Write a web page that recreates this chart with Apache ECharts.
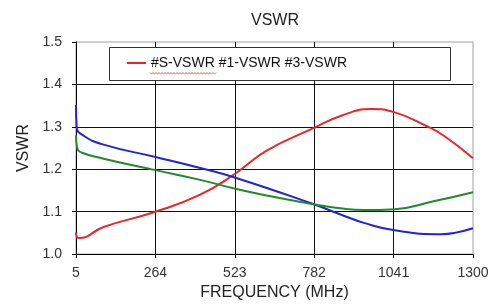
<!DOCTYPE html>
<html>
<head>
<meta charset="utf-8"/>
<title>VSWR</title>
<script src="https://cdn.jsdelivr.net/npm/echarts@6/dist/echarts.min.js"></script>
<style>
  html, body { margin: 0; padding: 0; background: #fff; }
  #main { width: 504px; height: 306px; }
</style>
</head>
<body>
<div id="main"></div>
<script>
// values (frequency in MHz, VSWR)
const seriesNames = ['#S-VSWR', '#1-VSWR', '#3-VSWR']
const xTicks = [5, 264, 523, 782, 1041, 1300]

const sFreq = [5, 8, 14, 95, 264, 410, 525, 627, 783, 866, 968, 1045, 1148, 1205, 1300]
const sVswr = [1.051, 1.040, 1.038, 1.064, 1.100, 1.140, 1.190, 1.244, 1.298, 1.325, 1.342, 1.334, 1.302, 1.279, 1.226]

const oneFreq = [5, 7, 30, 95, 264, 410, 525, 783, 866, 947, 1045, 1197, 1240, 1300]
const oneVswr = [1.352, 1.300, 1.279, 1.258, 1.229, 1.203, 1.180, 1.117, 1.094, 1.073, 1.056, 1.047, 1.050, 1.061]

const threeFreq = [5, 9, 25, 95, 264, 410, 525, 627, 783, 866, 947, 1045, 1175, 1300]
const threeVswr = [1.280, 1.250, 1.239, 1.225, 1.198, 1.175, 1.154, 1.138, 1.117, 1.108, 1.104, 1.106, 1.125, 1.146]

const colors = ['#e8262a', '#2222d6', '#23892a']
const font = "'Liberation Sans', Arial, sans-serif"

function pairs(xs, ys) {
    return xs.map((x, i) => [x, ys[i]])
}

const lines = [
    pairs(sFreq, sVswr),
    pairs(oneFreq, oneVswr),
    pairs(threeFreq, threeVswr)
]

// spell-check squiggle under the first legend word
const squiggle = []
for (let x = 150; x <= 216; x += 1.5) {
    squiggle.push([x, 73 + ((Math.round((x - 150) / 1.5) % 2) ? 1.2 : -0.4)])
}

const myChart = echarts.init(document.getElementById('main'), null, { renderer: 'canvas' })

const option = {
    animation: false,
    backgroundColor: '#fff',
    title: {
        text: 'VSWR',
        left: 270,
        top: 8,
        textAlign: 'center',
        textStyle: { fontFamily: font, fontSize: 16, fontWeight: 'normal', color: '#222' }
    },
    grid: {
        left: 76,
        right: 31,
        top: 42,
        bottom: 47,
        show: true,
        borderColor: '#a0a0a0',
        borderWidth: 1
    },
    legend: {
        data: [seriesNames[0]],
        left: 127,
        top: 56,
        padding: 0,
        z: 6,
        icon: 'rect',
        itemWidth: 19,
        itemHeight: 2,
        formatter: () => seriesNames.join(' '),
        textStyle: { fontFamily: font, fontSize: 14, color: '#111' }
    },
    graphic: [
        {
            type: 'rect',
            z: 4,
            shape: { x: 109.5, y: 47.5, width: 341, height: 33 },
            style: { fill: '#fff', stroke: '#333', lineWidth: 1 }
        },
        {
            type: 'polyline',
            z: 7,
            shape: { points: squiggle },
            style: { stroke: '#d04848', lineWidth: 0.8, fill: null }
        }
    ],
    xAxis: {
        type: 'value',
        min: xTicks[0],
        max: xTicks[xTicks.length - 1],
        interval: xTicks[1] - xTicks[0],
        name: 'FREQUENCY (MHz)',
        nameLocation: 'middle',
        nameGap: 30,
        nameTextStyle: { fontFamily: font, fontSize: 16, color: '#222' },
        axisLine: { lineStyle: { color: '#000', width: 1 } },
        axisTick: { show: true, length: 4, lineStyle: { color: '#000' } },
        axisLabel: {
            fontFamily: font, fontSize: 14, color: '#333', margin: 12,
            formatter: v => String(v)
        },
        splitLine: {
            show: true,
            showMinLine: false,
            showMaxLine: false,
            lineStyle: { color: '#111', width: 1 }
        }
    },
    yAxis: {
        type: 'value',
        min: 1.0,
        max: 1.5,
        interval: 0.1,
        name: 'VSWR',
        nameLocation: 'middle',
        nameGap: 44,
        nameTextStyle: { fontFamily: font, fontSize: 16, color: '#222' },
        axisLine: { show: true, lineStyle: { color: '#000', width: 1 } },
        axisTick: { show: true, length: 4, lineStyle: { color: '#000' } },
        axisLabel: {
            fontFamily: font, fontSize: 14, color: '#333', margin: 14,
            formatter: v => v.toFixed(1)
        },
        splitLine: {
            show: true,
            showMinLine: false,
            showMaxLine: false,
            lineStyle: { color: '#111', width: 1 }
        }
    },
    series: seriesNames.map((name, i) => ({
        name: name,
        type: 'line',
        data: lines[i],
        smooth: 0.5,
        showSymbol: false,
        symbol: 'none',
        lineStyle: { color: colors[i], width: 2 },
        itemStyle: { color: colors[i] },
        z: 2
    }))
}

myChart.setOption(option)
</script>
</body>
</html>
